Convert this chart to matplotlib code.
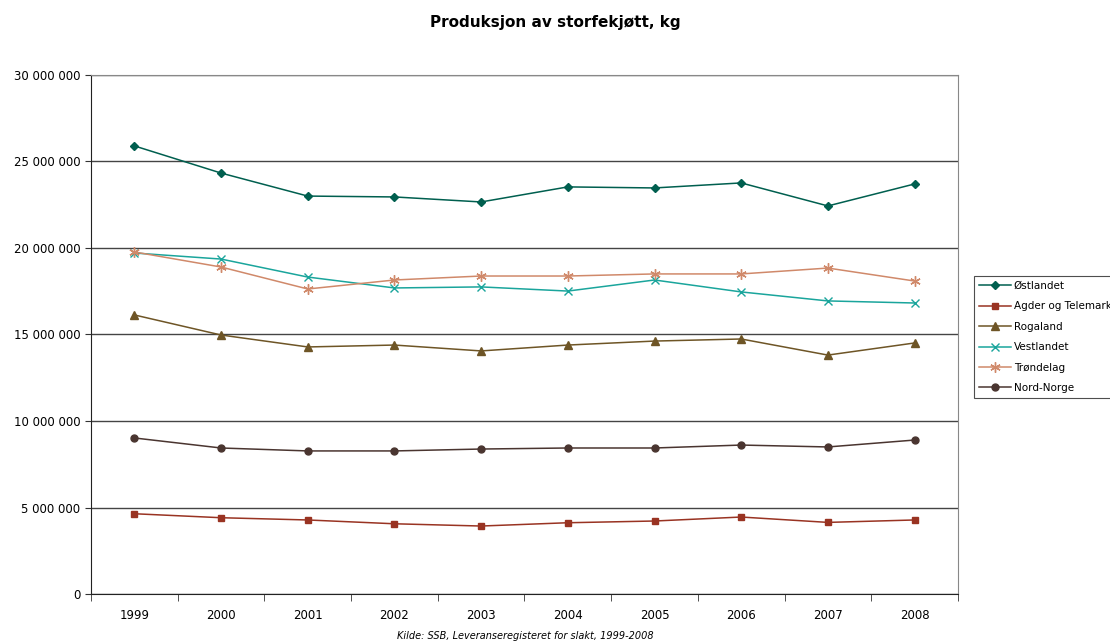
import numpy as np
import matplotlib
matplotlib.use("Agg")
from matplotlib import pyplot as plt
from matplotlib.ticker import FuncFormatter

years = ["1999", "2000", "2001", "2002", "2003", "2004", "2005", "2006", "2007", "2008"]

ostlandet = [25.90, 24.33, 23.00, 22.95, 22.66, 23.53, 23.47, 23.76, 22.43, 23.70]
agder = [4.64, 4.41, 4.28, 4.06, 3.93, 4.12, 4.22, 4.45, 4.14, 4.28]
rogaland = [16.13, 14.97, 14.28, 14.39, 14.05, 14.39, 14.62, 14.74, 13.81, 14.51]
vestlandet = [19.71, 19.36, 18.32, 17.69, 17.75, 17.51, 18.15, 17.46, 16.94, 16.82]
trondelag = [19.77, 18.90, 17.63, 18.15, 18.38, 18.38, 18.50, 18.50, 18.84, 18.09]
nord_norge = [9.02, 8.44, 8.27, 8.27, 8.38, 8.44, 8.44, 8.61, 8.50, 8.90]

series = [
    ("Østlandet", ostlandet, "#005f4f", "D", 4.5),
    ("Agder og Telemark", agder, "#993322", "s", 5),
    ("Rogaland", rogaland, "#6e5526", "^", 6),
    ("Vestlandet", vestlandet, "#1aa59c", "x", 6),
    ("Trøndelag", trondelag, "#d0896a", (6, 2, 0), 7.5),
    ("Nord-Norge", nord_norge, "#4a3530", "o", 5),
]

fig = plt.figure(figsize=(11.1, 6.44), dpi=100)
ax = fig.add_axes([0.082, 0.0776, 0.781, 0.806])

x = np.arange(len(years))
for name, vals, color, marker, ms in series:
    ax.plot(x, np.array(vals) * 1e6, color=color, marker=marker, markersize=ms,
            linewidth=1.1, markeredgewidth=1.0, label=name)

ax.set_xlim(-0.5, len(years) - 0.5)
ax.set_ylim(0, 30e6)
ax.set_yticks(np.arange(0, 30e6 + 1, 5e6))
ax.yaxis.set_major_formatter(FuncFormatter(lambda v, p: f"{int(v):,}".replace(",", " ")))
ax.yaxis.grid(True, color="#444444", linewidth=1.0)
ax.set_axisbelow(True)

ax.set_xticks(x)
ax.set_xticklabels(years)
ax.set_xticks(np.arange(-0.5, len(years)), minor=True)
ax.tick_params(axis="x", which="major", length=0, pad=11, labelsize=8.5)
ax.tick_params(axis="x", which="minor", length=5, color="#333333")
ax.tick_params(axis="y", length=4, labelsize=8.5, color="#333333")

for side in ["top", "right"]:
    ax.spines[side].set_color("#888888")
for side in ["left", "bottom"]:
    ax.spines[side].set_color("#222222")

fig.text(0.5, 0.965, "Produksjon av storfekjøtt, kg", ha="center", va="center",
         fontsize=11, fontweight="bold")
fig.text(0.473, 0.012, "Kilde: SSB, Leveranseregisteret for slakt, 1999-2008",
         ha="center", va="center", fontsize=7, style="italic")

leg = fig.legend(loc="upper left", bbox_to_anchor=(0.873, 0.58), fontsize=7.5,
                 frameon=True, fancybox=False, edgecolor="#222222",
                 borderpad=0.5, labelspacing=1.0, handlelength=3.0, handletextpad=0.3)
leg.get_frame().set_linewidth(0.8)

fig.savefig("out.png", dpi=100)
